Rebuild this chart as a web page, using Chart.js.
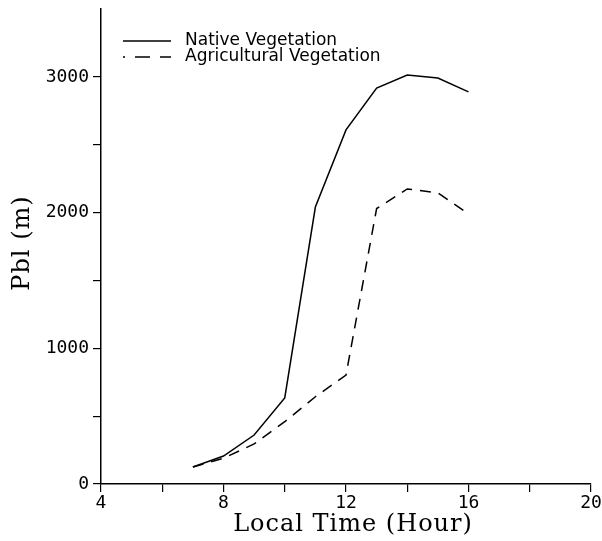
<!DOCTYPE html>
<html>
<head>
<meta charset="utf-8">
<script src="https://cdn.jsdelivr.net/npm/chart.js@4.4.0/dist/chart.umd.min.js"></script>
<style>
  html, body { margin: 0; padding: 0; background: #fff; }
  #wrap { width: 602px; height: 541px; }
</style>
</head>
<body>
<div id="wrap"><canvas id="pbl" width="602" height="541"></canvas></div>
<script>
const hours = [7, 8, 9, 10, 11, 12, 13, 14, 15, 16];
const nativePbl = [125, 206, 361, 634, 2041, 2609, 2918, 3014, 2992, 2889];
const agriPbl = [125, 190, 295, 459, 643, 803, 2030, 2174, 2145, 1990];
const seriesNames = ['Native Vegetation', 'Agricultural Vegetation'];
const xTitle = 'Local Time (Hour)';
const yTitle = 'Pbl (m)';

const tickFont = { family: 'DejaVu Sans Mono', size: 18 };

const toPoints = (ys) => hours.map((h, i) => ({ x: h, y: ys[i] }));

// legend inside the plot (upper left) and the two axis titles
const decorations = {
  id: 'decorations',
  afterDatasetsDraw(chart) {
    const { ctx } = chart;
    const rows = [41, 57];
    ctx.save();
    chart.data.datasets.forEach((ds, i) => {
      const y = rows[i];
      ctx.strokeStyle = '#000';
      ctx.lineWidth = 1.4;
      if (ds.borderDash) {
        ctx.setLineDash([15, 10]);
        ctx.lineDashOffset = 13;
      } else {
        ctx.setLineDash([]);
      }
      ctx.beginPath();
      ctx.moveTo(123, y);
      ctx.lineTo(171, y);
      ctx.stroke();
      ctx.setLineDash([]);
      ctx.fillStyle = '#000';
      ctx.font = '17px "DejaVu Sans"';
      ctx.textAlign = 'left';
      ctx.textBaseline = 'middle';
      ctx.fillText(ds.label, 185, y);
    });

    ctx.font = '24px "DejaVu Serif"';
    ctx.letterSpacing = '1px';
    ctx.textAlign = 'center';
    ctx.textBaseline = 'middle';
    ctx.fillText(xTitle, 353, 525);
    ctx.translate(23, 243);
    ctx.rotate(-Math.PI / 2);
    ctx.fillText(yTitle, 0, 0);
    ctx.restore();
  }
};

new Chart(document.getElementById('pbl'), {
  type: 'line',
  data: {
    datasets: [
      {
        label: seriesNames[0],
        data: toPoints(nativePbl),
        borderColor: '#000',
        borderWidth: 1.5,
        pointRadius: 0,
        tension: 0
      },
      {
        label: seriesNames[1],
        data: toPoints(agriPbl),
        borderColor: '#000',
        borderWidth: 1.5,
        borderDash: [11, 8],
        pointRadius: 0,
        tension: 0
      }
    ]
  },
  options: {
    responsive: false,
    animation: false,
    layout: { padding: { top: 9, right: 11, left: 0, bottom: 0 } },
    plugins: {
      legend: { display: false },
      tooltip: { enabled: false }
    },
    scales: {
      x: {
        type: 'linear',
        min: 4,
        max: 20,
        afterFit: (s) => {
          s.height = 57;
          s.paddingLeft = 0;
          s.paddingRight = 0;
        },
        border: { color: '#000', width: 1.5 },
        grid: { drawOnChartArea: false, tickLength: 8, color: '#000', lineWidth: 1.2 },
        ticks: {
          stepSize: 2,
          padding: 1,
          color: '#000',
          font: tickFont,
          maxRotation: 0,
          callback: (v) => (v % 4 === 0 ? String(v) : '')
        }
      },
      y: {
        min: 0,
        max: 3500,
        afterFit: (s) => {
          s.width = 101;
          s.paddingTop = 0;
          s.paddingBottom = 0;
        },
        border: { color: '#000', width: 1.5 },
        grid: {
          drawOnChartArea: false,
          tickLength: 8,
          lineWidth: 1.2,
          color: (c) => (c.tick && c.tick.value === 3500 ? 'rgba(0,0,0,0)' : '#000')
        },
        ticks: {
          stepSize: 500,
          padding: 4,
          color: '#000',
          font: tickFont,
          callback: (v) => (v % 1000 === 0 ? String(v) : '')
        }
      }
    }
  },
  plugins: [decorations]
});
</script>
</body>
</html>
